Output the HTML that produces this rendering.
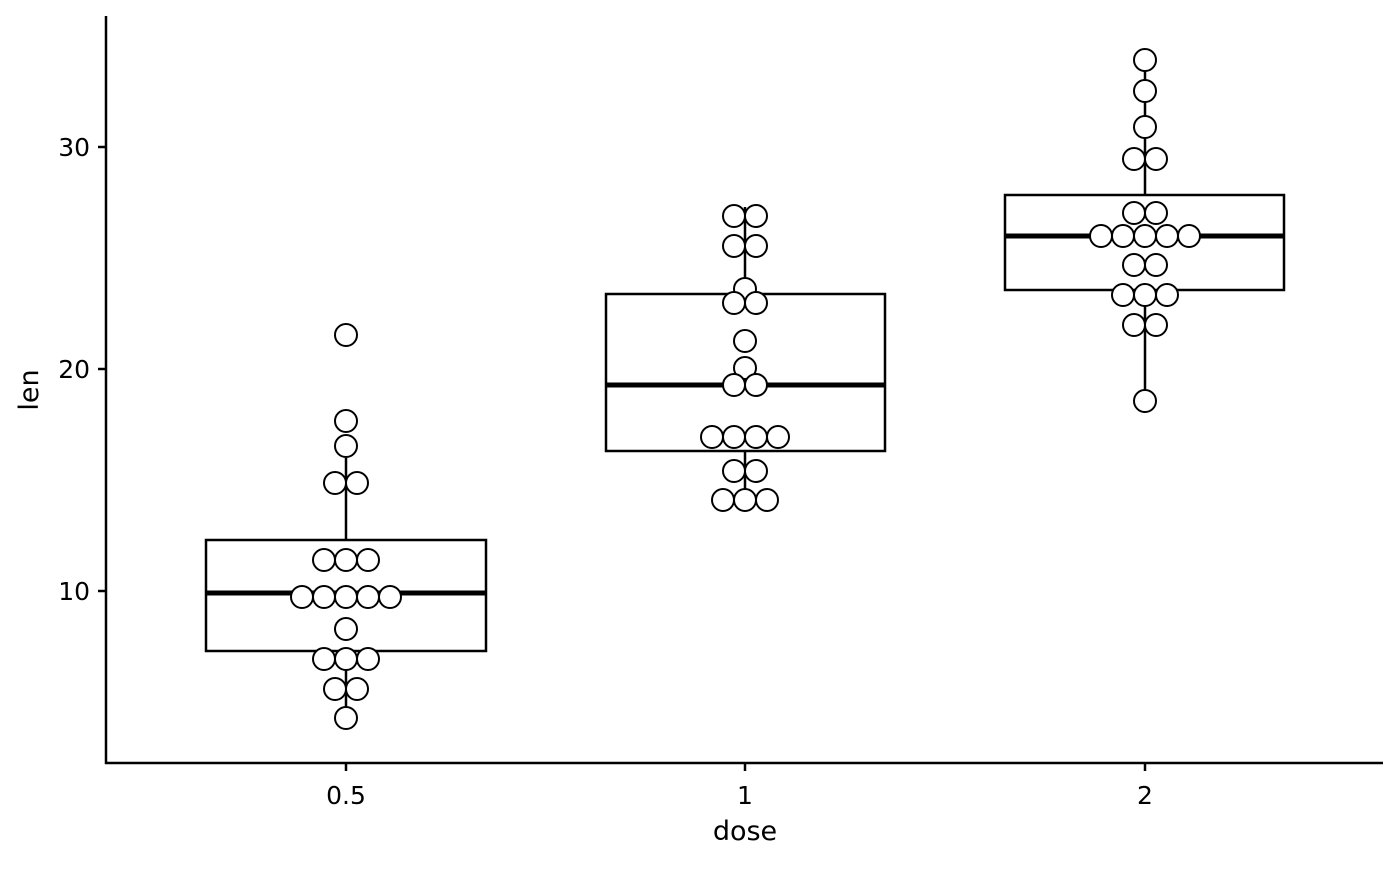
<!DOCTYPE html>
<html><head><style>html,body{margin:0;padding:0;background:#fff}</style></head>
<body>
<svg width="1400" height="866" xmlns="http://www.w3.org/2000/svg" font-family="DejaVu Sans, Liberation Sans, sans-serif">
<rect width="1400" height="866" fill="#fff"/>
<g stroke="#000" stroke-width="2.5" fill="none">
<line x1="106" y1="16" x2="106" y2="764"/>
<line x1="105" y1="763" x2="1383" y2="763"/>
<line x1="98" y1="147" x2="106" y2="147"/>
<line x1="98" y1="369" x2="106" y2="369"/>
<line x1="98" y1="591" x2="106" y2="591"/>
<line x1="346" y1="763" x2="346" y2="771"/>
<line x1="745" y1="763" x2="745" y2="771"/>
<line x1="1145" y1="763" x2="1145" y2="771"/>
<line x1="346" y1="458" x2="346" y2="540"/><line x1="346" y1="651" x2="346" y2="718"/>
<line x1="745" y1="207" x2="745" y2="294"/><line x1="745" y1="451" x2="745" y2="500"/>
<line x1="1145" y1="60" x2="1145" y2="195"/><line x1="1145" y1="290" x2="1145" y2="401"/>
<rect x="206" y="540" width="280" height="111" fill="#fff"/>
<rect x="606" y="294" width="279" height="157" fill="#fff"/>
<rect x="1005" y="195" width="279" height="95" fill="#fff"/>
</g>
<g stroke="#000" stroke-width="5">
<line x1="206" y1="593" x2="486" y2="593"/>
<line x1="606" y1="385" x2="885" y2="385"/>
<line x1="1005" y1="236" x2="1284" y2="236"/>
</g>
<g fill="#fff" stroke="#000" stroke-width="2">
<circle cx="346" cy="335" r="11"/><circle cx="346" cy="421" r="11"/><circle cx="346" cy="446" r="11"/><circle cx="335" cy="483" r="11"/><circle cx="357" cy="483" r="11"/><circle cx="324" cy="560" r="11"/><circle cx="346" cy="560" r="11"/><circle cx="368" cy="560" r="11"/><circle cx="302" cy="597" r="11"/><circle cx="324" cy="597" r="11"/><circle cx="346" cy="597" r="11"/><circle cx="368" cy="597" r="11"/><circle cx="390" cy="597" r="11"/><circle cx="346" cy="629" r="11"/><circle cx="324" cy="659" r="11"/><circle cx="346" cy="659" r="11"/><circle cx="368" cy="659" r="11"/><circle cx="335" cy="689" r="11"/><circle cx="357" cy="689" r="11"/><circle cx="346" cy="718" r="11"/>
<circle cx="734" cy="216" r="11"/><circle cx="756" cy="216" r="11"/><circle cx="734" cy="246" r="11"/><circle cx="756" cy="246" r="11"/><circle cx="745" cy="289" r="11"/><circle cx="734" cy="303" r="11"/><circle cx="756" cy="303" r="11"/><circle cx="745" cy="341" r="11"/><circle cx="745" cy="368" r="11"/><circle cx="734" cy="385" r="11"/><circle cx="756" cy="385" r="11"/><circle cx="712" cy="437" r="11"/><circle cx="734" cy="437" r="11"/><circle cx="756" cy="437" r="11"/><circle cx="778" cy="437" r="11"/><circle cx="734" cy="471" r="11"/><circle cx="756" cy="471" r="11"/><circle cx="723" cy="500" r="11"/><circle cx="745" cy="500" r="11"/><circle cx="767" cy="500" r="11"/>
<circle cx="1145" cy="60" r="11"/><circle cx="1145" cy="91" r="11"/><circle cx="1145" cy="127" r="11"/><circle cx="1134" cy="159" r="11"/><circle cx="1156" cy="159" r="11"/><circle cx="1134" cy="213" r="11"/><circle cx="1156" cy="213" r="11"/><circle cx="1101" cy="236" r="11"/><circle cx="1123" cy="236" r="11"/><circle cx="1145" cy="236" r="11"/><circle cx="1167" cy="236" r="11"/><circle cx="1189" cy="236" r="11"/><circle cx="1134" cy="265" r="11"/><circle cx="1156" cy="265" r="11"/><circle cx="1123" cy="295" r="11"/><circle cx="1145" cy="295" r="11"/><circle cx="1167" cy="295" r="11"/><circle cx="1134" cy="325" r="11"/><circle cx="1156" cy="325" r="11"/><circle cx="1145" cy="401" r="11"/>
</g>
<g font-size="25" fill="#000">
<text x="90" y="156" text-anchor="end">30</text>
<text x="90" y="378" text-anchor="end">20</text>
<text x="90" y="600" text-anchor="end">10</text>
<text x="346" y="804" text-anchor="middle">0.5</text>
<text x="745" y="804" text-anchor="middle">1</text>
<text x="1145" y="804" text-anchor="middle">2</text>
<text x="745" y="840" text-anchor="middle" font-size="27">dose</text>
<text transform="translate(38,390) rotate(-90)" text-anchor="middle" font-size="27">len</text>
</g>
</svg>
</body></html>
